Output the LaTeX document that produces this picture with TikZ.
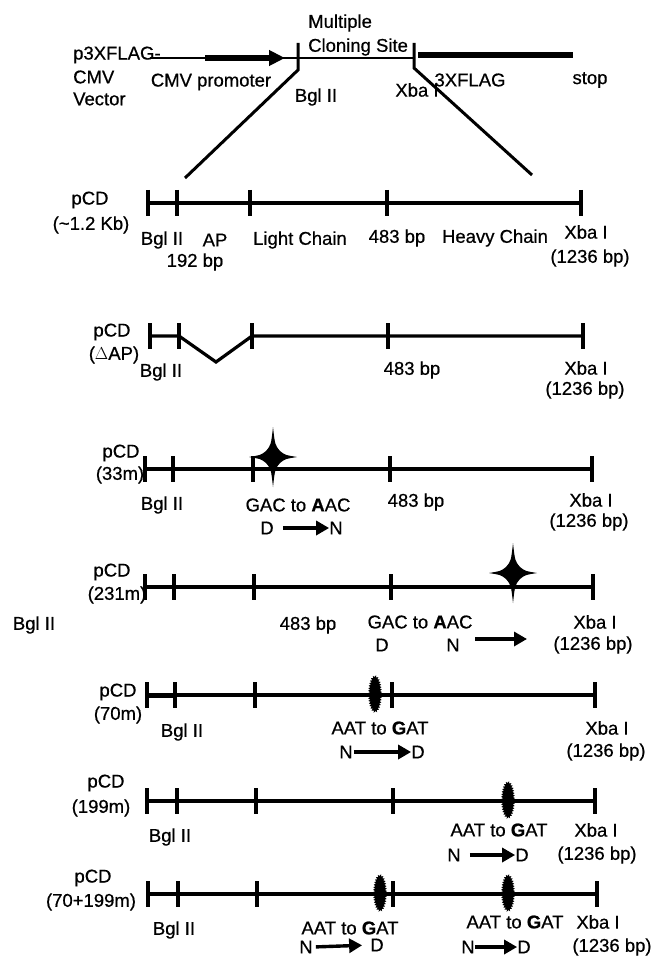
\documentclass[tikz,border=0pt]{standalone}
\usepackage{fontspec}
\setmainfont{Liberation Sans}
\newfontfamily\lblfam{Liberation Sans}[FakeBold=0.6]
\usetikzlibrary{arrows.meta, decorations.pathmorphing}
\newcommand\lblfont{\lblfam\fontsize{18.5}{21}\selectfont}
\tikzset{
  lbl/.style={font=\lblfont, inner sep=0pt},
  seq/.style={line width=3.2pt},
  cut/.style={line width=3.4pt},
  vec/.style={line width=2.6pt},
  mutarr/.style={-{Triangle[length=13pt,width=14pt]}, line width=3.4pt},
  blob/.style={fill=black, decorate, decoration={zigzag, segment length=2.5pt, amplitude=1pt}},
  mstar/.pic={\fill (0,-30) .. controls (2,-12) .. (7,-6) .. controls (12,-2) .. (24,0)
      .. controls (12,2) .. (7,6) .. controls (2,12) .. (0,30)
      .. controls (-2,12) .. (-7,6) .. controls (-12,2) .. (-24,0)
      .. controls (-12,-2) .. (-7,-6) .. controls (-2,-12) .. (0,-30) -- cycle;},
}

\begin{document}
\begin{tikzpicture}[x=1pt, y=-1pt]
  \useasboundingbox (0,0) rectangle (651,957);

  % vector
  \node[lbl, anchor=west] (mult) at (308,23) {Multiple};
  \node[lbl, anchor=west] (mcs) at (308,47) {Cloning Site};
  \node[lbl, anchor=west] (vname) at (73,55) {p3XFLAG-};
  \node[lbl, anchor=west] (vcmv) at (73,77) {CMV};
  \node[lbl, anchor=west] (vvec) at (73,99) {Vector};
  \node[lbl] (prom) at (211,82) {CMV promoter};
  \node[lbl] (vbgl) at (316,97) {Bgl II};
  \node[lbl] (vxba) at (417,90) {Xba I};
  \node[lbl] (flag) at (470,80) {3XFLAG};
  \node[lbl] (stop) at (590,80) {stop};
  \draw[vec] (150,58) -- (414,58);
  \draw[line width=6pt, -{Triangle[length=16pt,width=15pt]}] (205,58) -- (285,58);
  \draw[line width=6pt] (418,55) -- (573,55);
  \draw[vec, line width=3pt] (298,43) -- (298,70) -- (185,178);
  \draw[vec, line width=3pt] (414,43) -- (414,68) -- (532,175);

  % pCD
  \draw[seq] (148,203) -- (581,203);
  \foreach \x in {148,177,250,387,581} \draw[cut] (\x,190) -- (\x,216);
  \node[lbl] (p1) at (90,200) {pCD};
  \node[lbl] (p1s) at (91,225) {(\textasciitilde1.2 Kb)};
  \node[lbl] (b1) at (162,240) {Bgl II};
  \node[lbl] (ap1) at (215,240) {AP};
  \node[lbl] (bp1) at (195,262) {192 bp};
  \node[lbl] (lc1) at (300,240) {Light Chain};
  \node[lbl] (m1) at (397,238) {483 bp};
  \node[lbl] (hc1) at (495,238) {Heavy Chain};
  \node[lbl] (x1) at (586,232) {Xba I};
  \node[lbl] (x1s) at (590,258) {(1236 bp)};

  % delta AP
  \draw[seq] (150,336) -- (179,336) -- (216,362) -- (252,336) -- (583,336);
  \foreach \x in {150,179,252,388,583} \draw[cut] (\x,323) -- (\x,349);
  \node[lbl] (p2) at (112,332) {pCD};
  \node[lbl] (p2s) at (114,355) {($\Delta$AP)};
  \node[lbl] (b2) at (161,372) {Bgl II};
  \node[lbl] (m2) at (412,370) {483 bp};
  \node[lbl] (x2) at (586,368) {Xba I};
  \node[lbl] (x2s) at (585,390) {(1236 bp)};

  % 33m
  \draw[seq] (145,469) -- (592,469);
  \foreach \x in {145,173,253,390,592} \draw[cut] (\x,456) -- (\x,482);
  \pic at (273,457) {mstar};
  \node[lbl] (p3) at (121,453) {pCD};
  \node[lbl] (p3s) at (120,475) {(33m)};
  \node[lbl] (b3) at (162,505) {Bgl II};
  \node[lbl] (g3) at (298,505) {GAC to \textbf{A}AC};
  \node[lbl] (d3) at (267,528) {D};
  \node[lbl] (n3) at (336,528) {N};
  \draw[mutarr, shorten <=9pt] (d3.east) -- (n3.west);
  \node[lbl] (m3) at (416,502) {483 bp};
  \node[lbl] (x3) at (591,500) {Xba I};
  \node[lbl] (x3s) at (589,522) {(1236 bp)};

  % 231m
  \draw[seq] (145,587) -- (593,587);
  \foreach \x in {145,174,254,391,593} \draw[cut] (\x,574) -- (\x,600);
  \pic at (513,573) {mstar};
  \node[lbl] (p4) at (112,572) {pCD};
  \node[lbl] (p4s) at (117,595) {(231m)};
  \node[lbl] (b4) at (34,625) {Bgl II};
  \node[lbl] (m4) at (308,625) {483 bp};
  \node[lbl] (g4) at (420,622) {GAC to \textbf{A}AC};
  \node[lbl] (d4) at (382,645) {D};
  \node[lbl] (n4) at (453,645) {N};
  \coordinate (a4s) at (475,639);
  \coordinate (a4e) at (527,639);
  \draw[mutarr] (a4s) -- (a4e);
  \node[lbl] (x4) at (595,622) {Xba I};
  \node[lbl] (x4s) at (593,645) {(1236 bp)};

  % 70m
  \draw[seq] (147,695) -- (595,695);
  \draw[line width=5pt] (147,695) -- (175,695);
  \foreach \x in {147,175,255,392,595} \draw[cut] (\x,682) -- (\x,708);
  \fill[blob] (375,694) ellipse [x radius=6pt, y radius=18pt];
  \node[lbl] (p5) at (118,692) {pCD};
  \node[lbl] (p5s) at (118,715) {(70m)};
  \node[lbl] (b5) at (182,732) {Bgl II};
  \node[lbl] (g5) at (380,728) {AAT to \textbf{G}AT};
  \node[lbl] (n5) at (346,752) {N};
  \node[lbl] (d5) at (418,752) {D};
  \draw[mutarr, shorten <=1pt] (n5.east) -- (d5.west);
  \node[lbl] (x5) at (607,728) {Xba I};
  \node[lbl] (x5s) at (606,752) {(1236 bp)};

  % 199m
  \draw[seq] (147,801) -- (595,801);
  \foreach \x in {147,177,256,393,595} \draw[cut] (\x,788) -- (\x,814);
  \fill[blob] (508,800) ellipse [x radius=6pt, y radius=18pt];
  \node[lbl] (p6) at (106,783) {pCD};
  \node[lbl] (p6s) at (101,808) {(199m)};
  \node[lbl] (b6) at (170,837) {Bgl II};
  \node[lbl] (g6) at (499,830) {AAT to \textbf{G}AT};
  \node[lbl] (n6) at (454,855) {N};
  \node[lbl] (d6) at (522,855) {D};
  \draw[mutarr, shorten <=9pt] (n6.east) -- (d6.west);
  \node[lbl] (x6) at (596,830) {Xba I};
  \node[lbl] (x6s) at (597,855) {(1236 bp)};

  % 70+199m
  \draw[seq] (148,894) -- (597,894);
  \foreach \x in {148,178,257,393,597} \draw[cut] (\x,881) -- (\x,907);
  \fill[blob] (380,893) ellipse [x radius=6pt, y radius=18pt];
  \fill[blob] (508,893) ellipse [x radius=6pt, y radius=18pt];
  \node[lbl] (p7) at (93,878) {pCD};
  \node[lbl] (p7s) at (91,902) {(70+199m)};
  \node[lbl] (b7) at (174,930) {Bgl II};
  \node[lbl] (g7) at (350,928) {AAT to \textbf{G}AT};
  \node[lbl] (n7) at (306,947) {N};
  \node[lbl] (d7) at (377,945) {D};
  \draw[mutarr, shorten <=3pt, shorten >=8pt] (n7.east) -- (d7.west);
  \node[lbl] (g7b) at (515,922) {AAT to \textbf{G}AT};
  \node[lbl] (n7b) at (468,947) {N};
  \node[lbl] (d7b) at (524,947) {D};
  \draw[mutarr] (n7b.east) -- (d7b.west);
  \node[lbl] (x7) at (598,922) {Xba I};
  \node[lbl] (x7s) at (612,947) {(1236 bp)};
\end{tikzpicture}
\end{document}
